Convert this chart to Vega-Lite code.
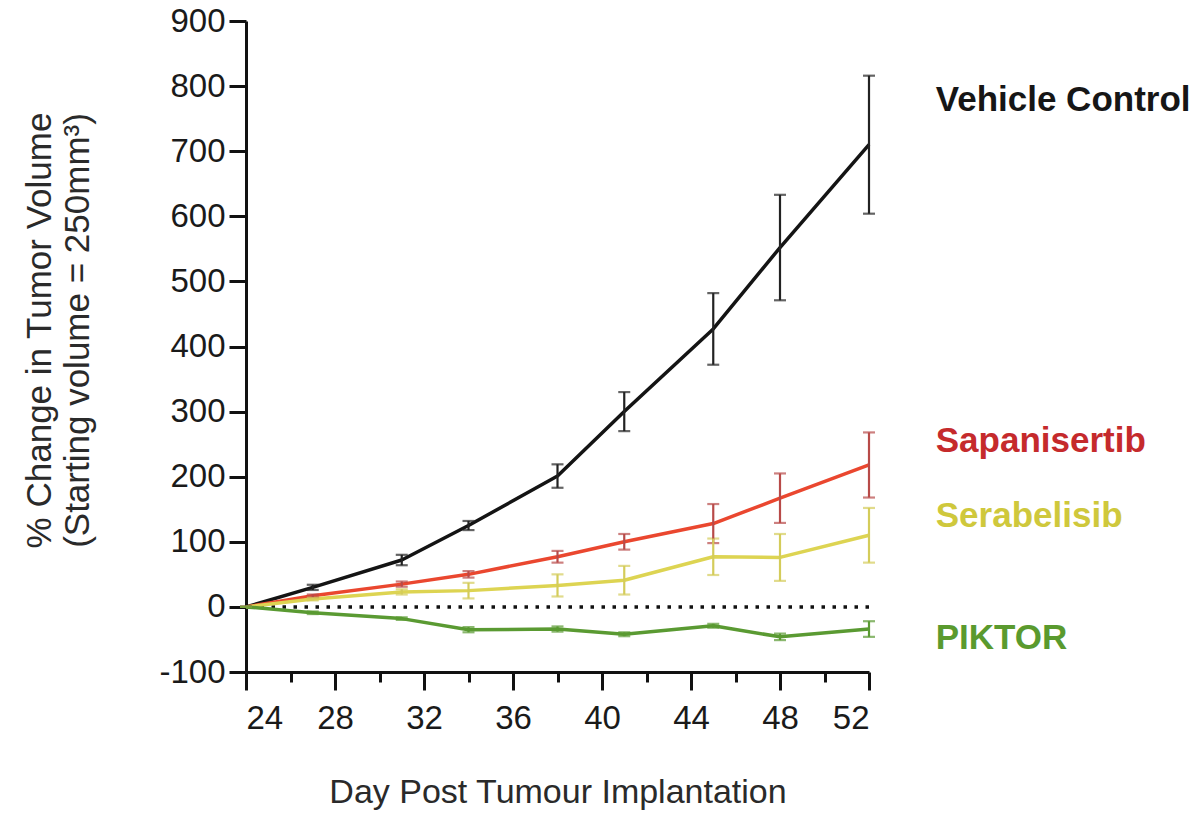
{
  "$schema": "https://vega.github.io/schema/vega-lite/v6.json",
  "width": 623,
  "height": 651,
  "autosize": "none",
  "padding": {"left": 246, "top": 21, "right": 331, "bottom": 141},
  "background": "white",
  "config": {
    "view": {"stroke": null},
    "font": "Liberation Sans",
    "axis": {
      "domainColor": "#111111",
      "domainWidth": 3,
      "tickColor": "#111111",
      "tickWidth": 3,
      "grid": false,
      "labelFont": "Liberation Sans",
      "labelFontSize": 33,
      "labelColor": "#1a1a1a",
      "titleFont": "Liberation Sans",
      "titleFontSize": 33,
      "titleFontWeight": "normal",
      "titleColor": "#2a2a2a"
    }
  },
  "datasets": {
    "growth": [
      {"group": "Vehicle Control", "day": 24, "mean": 0, "err": 0},
      {"group": "Vehicle Control", "day": 27, "mean": 30, "err": 4},
      {"group": "Vehicle Control", "day": 31, "mean": 72, "err": 8},
      {"group": "Vehicle Control", "day": 34, "mean": 125, "err": 7},
      {"group": "Vehicle Control", "day": 38, "mean": 201, "err": 18},
      {"group": "Vehicle Control", "day": 41, "mean": 300, "err": 30},
      {"group": "Vehicle Control", "day": 45, "mean": 427, "err": 55},
      {"group": "Vehicle Control", "day": 48, "mean": 552, "err": 81},
      {"group": "Vehicle Control", "day": 52, "mean": 710, "err": 106},
      {"group": "Sapanisertib", "day": 24, "mean": 0, "err": 0},
      {"group": "Sapanisertib", "day": 27, "mean": 17, "err": 2},
      {"group": "Sapanisertib", "day": 31, "mean": 35, "err": 4},
      {"group": "Sapanisertib", "day": 34, "mean": 50, "err": 5},
      {"group": "Sapanisertib", "day": 38, "mean": 77, "err": 9},
      {"group": "Sapanisertib", "day": 41, "mean": 100, "err": 12},
      {"group": "Sapanisertib", "day": 45, "mean": 128, "err": 30},
      {"group": "Sapanisertib", "day": 48, "mean": 167, "err": 38},
      {"group": "Sapanisertib", "day": 52, "mean": 218, "err": 50},
      {"group": "Serabelisib", "day": 24, "mean": 0, "err": 0},
      {"group": "Serabelisib", "day": 27, "mean": 12, "err": 2},
      {"group": "Serabelisib", "day": 31, "mean": 23, "err": 4},
      {"group": "Serabelisib", "day": 34, "mean": 25, "err": 12},
      {"group": "Serabelisib", "day": 38, "mean": 33, "err": 17},
      {"group": "Serabelisib", "day": 41, "mean": 41, "err": 22},
      {"group": "Serabelisib", "day": 45, "mean": 77, "err": 28},
      {"group": "Serabelisib", "day": 48, "mean": 76, "err": 36},
      {"group": "Serabelisib", "day": 52, "mean": 110, "err": 42},
      {"group": "PIKTOR", "day": 24, "mean": 0, "err": 0},
      {"group": "PIKTOR", "day": 27, "mean": -9, "err": 2},
      {"group": "PIKTOR", "day": 31, "mean": -18, "err": 2},
      {"group": "PIKTOR", "day": 34, "mean": -35, "err": 4},
      {"group": "PIKTOR", "day": 38, "mean": -34, "err": 4},
      {"group": "PIKTOR", "day": 41, "mean": -42, "err": 3},
      {"group": "PIKTOR", "day": 45, "mean": -29, "err": 3},
      {"group": "PIKTOR", "day": 48, "mean": -46, "err": 5},
      {"group": "PIKTOR", "day": 52, "mean": -34, "err": 12}
    ],
    "labels": [
      {"group": "Vehicle Control", "day": 55, "value": 779},
      {"group": "Sapanisertib", "day": 55, "value": 255},
      {"group": "Serabelisib", "day": 55, "value": 140},
      {"group": "PIKTOR", "day": 55, "value": -48}
    ],
    "zero": [{"value": 0}]
  },
  "layer": [
    {
      "data": {"name": "zero"},
      "mark": {"type": "rule", "color": "#111111", "strokeWidth": 3.5, "strokeDash": [3.5, 7.5], "strokeCap": "butt"},
      "encoding": {
        "y": {"field": "value", "type": "quantitative", "scale": {"domain": [-100, 900]},
          "axis": {
            "values": [-100, 0, 100, 200, 300, 400, 500, 600, 700, 800, 900],
            "labelExpr": "datum.value < 0 ? '-' + abs(datum.value) : datum.label",
            "tickSize": 17,
            "labelPadding": 4,
            "title": ["% Change in Tumor Volume", "(Starting volume = 250mm³)"],
            "titleFontSize": 35,
            "titleX": -207,
            "titleY": 309,
            "titleAngle": -90,
            "titleAlign": "center",
            "titleBaseline": "middle",
            "titleLineHeight": 38
          }
        }
      }
    },
    {
      "data": {"name": "growth"},
      "mark": {"type": "line", "strokeWidth": 3.5, "strokeJoin": "round"},
      "encoding": {
        "x": {"field": "day", "type": "quantitative", "scale": {"domain": [24, 52], "nice": false, "zero": false},
          "axis": {
            "values": [24, 26, 28, 30, 32, 34, 36, 38, 40, 42, 44, 46, 48, 50, 52],
            "labelExpr": "datum.value % 4 === 0 ? datum.label : ''",
            "tickSize": {"condition": {"test": "datum.value % 4 === 0", "value": 18}, "value": 10},
            "labelPadding": 12,
            "title": "Day Post Tumour Implantation",
            "titleFontSize": 34,
            "titlePadding": 40
          }
        },
        "y": {"field": "mean", "type": "quantitative", "axis": null},
        "color": {"field": "group", "type": "nominal", "legend": null,
          "scale": {"domain": ["Vehicle Control", "Sapanisertib", "Serabelisib", "PIKTOR"],
                    "range": ["#141414", "#ea472f", "#ddd452", "#5a9a32"]}},
        "detail": {"field": "group"}
      }
    },
    {
      "data": {"name": "growth"},
      "mark": {"type": "errorbar", "ticks": {"size": 12}, "thickness": 2.2},
      "encoding": {
        "x": {"field": "day", "type": "quantitative", "axis": null},
        "y": {"field": "mean", "type": "quantitative", "axis": null},
        "yError": {"field": "err"},
        "color": {"field": "group", "type": "nominal", "legend": null,
          "scale": {"domain": ["Vehicle Control", "Sapanisertib", "Serabelisib", "PIKTOR"],
                    "range": ["#222222", "#b84a48", "#d4cc5a", "#5a9a32"]}}
      }
    },
    {
      "data": {"name": "labels"},
      "mark": {"type": "text", "align": "left", "baseline": "middle", "fontWeight": "bold", "fontSize": 35, "font": "Liberation Sans"},
      "encoding": {
        "x": {"field": "day", "type": "quantitative", "axis": null},
        "y": {"field": "value", "type": "quantitative", "axis": null},
        "text": {"field": "group"},
        "color": {"field": "group", "type": "nominal", "legend": null,
          "scale": {"domain": ["Vehicle Control", "Sapanisertib", "Serabelisib", "PIKTOR"],
                    "range": ["#161616", "#c52a2c", "#cfc83c", "#5a9a2e"]}}
      }
    }
  ],
  "resolve": {"scale": {"color": "independent"}, "axis": {"x": "independent", "y": "independent"}}
}
